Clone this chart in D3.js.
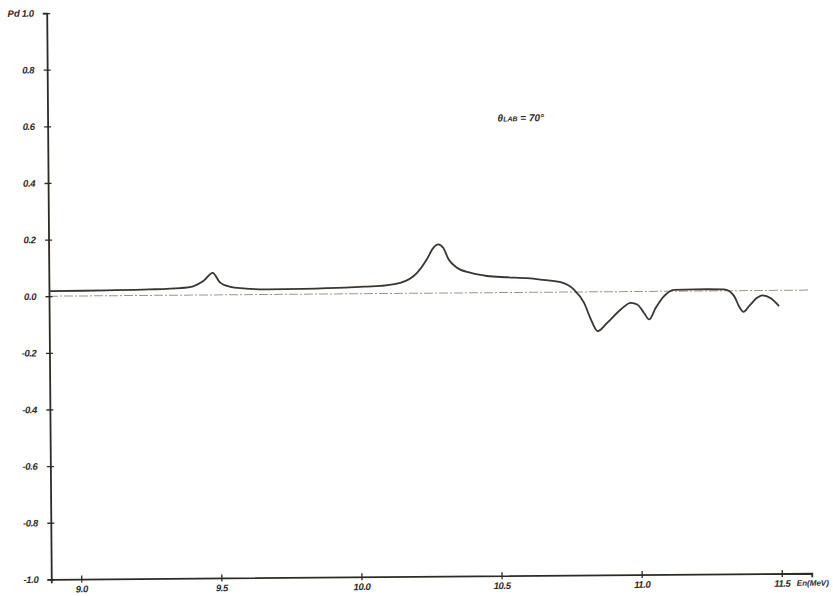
<!DOCTYPE html>
<html>
<head>
<meta charset="utf-8">
<script src="https://cdn.jsdelivr.net/npm/d3@7"></script>
<style>
  html, body { margin: 0; padding: 0; background: #fff; }
  svg text { font-family: 'Liberation Sans', 'DejaVu Sans', sans-serif; font-style: italic; font-weight: bold; fill: #2e2a26; }
</style>
</head>
<body>
<div id="chart"></div>
<script>
const WIDTH = 833
const HEIGHT = 596

// energy (MeV) and polarization
const energies = [
  8.894, 9.1, 9.25, 9.361, 9.408, 9.444, 9.478, 9.504, 9.540, 9.586, 9.672,
  9.8, 9.95, 10.03, 10.076, 10.147, 10.207, 10.242, 10.266, 10.283, 10.301,
  10.320, 10.350, 10.397, 10.457, 10.528, 10.6, 10.647, 10.719, 10.766, 10.802,
  10.826, 10.850, 10.885, 10.933, 10.969, 10.992, 11.016, 11.034, 11.058,
  11.088, 11.123, 11.2, 11.302, 11.338, 11.355, 11.371, 11.391, 11.421,
  11.439, 11.469, 11.498
]
const pdValues = [
  0.018, 0.019, 0.021, 0.025, 0.031, 0.049, 0.078, 0.043, 0.028, 0.022, 0.018,
  0.019, 0.022, 0.025, 0.027, 0.037, 0.072, 0.119, 0.160, 0.172, 0.160,
  0.119, 0.089, 0.071, 0.059, 0.054, 0.050, 0.045, 0.035, 0.009, -0.038,
  -0.097, -0.139, -0.109, -0.063, -0.040, -0.046, -0.076, -0.099, -0.058,
  -0.017, 0.005, 0.006, 0.005, -0.019, -0.055, -0.075, -0.055, -0.025,
  -0.017, -0.028, -0.056
]

const xTicks = [9.0, 9.5, 10.0, 10.5, 11.0, 11.5]
const xTickLabels = ['9.0', '9.5', '10.0', '10.5', '11.0', '11.5']
const yTicks = [1.0, 0.8, 0.6, 0.4, 0.2, 0.0, -0.2, -0.4, -0.6, -0.8, -1.0]
const yTickLabels = ['1.0', '0.8', '0.6', '0.4', '0.2', '0.0', '-0.2', '-0.4', '-0.6', '-0.8', '-1.0']
const xDomain = [8.893, 11.607]
const yDomain = [-1, 1]

const INK = '#2e2a26'

const x = d3.scaleLinear().domain(xDomain).range([49, 809.5])
const y = d3.scaleLinear().domain(yDomain).range([576.3, 10])

const svg = d3.select('#chart')
  .append('svg')
  .attr('width', WIDTH)
  .attr('height', HEIGHT)
  .style('display', 'block')

svg.append('rect').attr('width', WIDTH).attr('height', HEIGHT).attr('fill', '#fff')

// the scan is a little tilted
const g = svg.append('g')
  .attr('transform', 'rotate(-0.46, 430, 296)')

// zero reference line
g.append('line')
  .attr('x1', x(xDomain[0]))
  .attr('x2', x(xDomain[1]))
  .attr('y1', y(0))
  .attr('y2', y(0))
  .attr('stroke', '#9a9784')
  .attr('stroke-width', 1)
  .attr('stroke-dasharray', '9,2,2,2')

// y axis
const yAxis = g.append('g')
  .attr('transform', `translate(${x(xDomain[0])},0)`)
  .call(d3.axisLeft(y)
    .tickValues(yTicks)
    .tickSizeOuter(0)
    .tickSize(4)
    .tickPadding(9)
    .tickFormat((d, i) => yTickLabels[i]))
yAxis.select('.domain').attr('stroke', INK).attr('stroke-width', 1.8)
yAxis.selectAll('.tick line').attr('x1', -3.5).attr('x2', 3.5).attr('stroke', INK).attr('stroke-width', 1.3)
yAxis.selectAll('.tick text')
  .attr('fill', INK)
  .style('font-size', '9.5px')
  .style('font-family', null)
  .attr('letter-spacing', '-0.4')

// x axis
const xAxis = g.append('g')
  .attr('transform', `translate(0,${y(-1)})`)
  .call(d3.axisBottom(x)
    .tickValues(xTicks)
    .tickSizeOuter(0)
    .tickSize(4)
    .tickPadding(2.5)
    .tickFormat((d, i) => xTickLabels[i]))
xAxis.select('.domain').attr('stroke', INK).attr('stroke-width', 1.8)
xAxis.selectAll('.tick line').attr('y1', -3.5).attr('y2', 3.5).attr('stroke', INK).attr('stroke-width', 1.3)
xAxis.selectAll('.tick text')
  .attr('fill', INK)
  .style('font-size', '9.5px')
  .style('font-family', null)
  .attr('letter-spacing', '-0.4')

// axis names
g.append('text')
  .attr('x', x(xDomain[0]) - 27)
  .attr('y', y(1) + 3.5)
  .attr('text-anchor', 'end')
  .style('font-size', '9.5px')
  .text('Pd')

g.append('text')
  .attr('x', x(11.5) + 15)
  .attr('y', y(-1) + 12.5)
  .style('font-size', '8px')
  .text('En(MeV)')

// angle note
const note = g.append('text')
  .attr('x', 499)
  .attr('y', 122)
  .style('font-size', '10px')
note.append('tspan').text('θ')
note.append('tspan').style('font-size', '7px').text('LAB')
note.append('tspan').text(' = 70°')

// the curve
const points = energies.map((e, i) => [e, pdValues[i]])
const line = d3.line()
  .x(d => x(d[0]))
  .y(d => y(d[1]))
  .curve(d3.curveMonotoneX)

g.append('path')
  .datum(points)
  .attr('fill', 'none')
  .attr('stroke', '#3a3530')
  .attr('stroke-width', 1.8)
  .attr('stroke-linejoin', 'round')
  .attr('d', line)
</script>
</body>
</html>
